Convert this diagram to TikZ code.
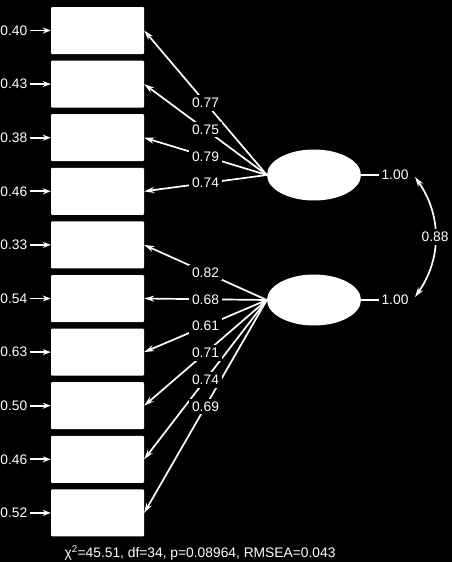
\documentclass[tikz,border=0pt]{standalone}
\usepackage{fontspec}
\setmainfont{Liberation Sans}
\usetikzlibrary{arrows.meta,shapes.geometric}

\begin{document}
\begin{tikzpicture}[x=1pt,y=-1pt,
	>={Stealth[length=10pt,width=6pt]},
	item/.style={fill=white,rounded corners=1pt,minimum width=93pt,minimum height=47pt,inner sep=0pt},
	factor/.style={ellipse,fill=white,minimum width=94pt,minimum height=51pt,inner sep=0pt},
	num/.style={text=white,font=\fontsize{13.8}{16}\selectfont,inner sep=2pt},
	load/.style={num,fill=black,inner sep=3pt},
	path/.style={white,line width=1.7pt,->}]
	\def\pitch{53.6};

	\fill[black] (0,0) rectangle (452,562);
	\useasboundingbox (0,0) rectangle (452,562);

	% ITEMS
	\foreach \i/\e in {1/0.40,2/0.43,3/0.38,4/0.46,5/0.33,6/0.54,7/0.63,8/0.50,9/0.46,10/0.52} {
		\node[item] (x\i) at (97.5,{30.5+(\i-1)*\pitch}) {};
		\node[num,anchor=east] (e\i) at (29.5,{30.5+(\i-1)*\pitch}) {\e};
		\draw[path,-{Stealth[length=8pt,width=6pt]}] (e\i) -- (x\i);
	}

	% FACTORS
	\node[factor] (f1) at (314,175) {};
	\node[factor] (f2) at (314,300) {};

	% LOADINGS
	\foreach \i in {1,...,4}
		\draw[path] (f1.west) -- (x\i.east);
	\foreach \i in {5,...,10}
		\draw[path] (f2.west) -- (x\i.east);
	\foreach \i/\l in {1/0.77,2/0.75,3/0.79,4/0.74}
		\path (f1.west) -- node[load] {\l} (x\i.east);
	\foreach \i/\l in {5/0.82,6/0.68,7/0.61,8/0.71,9/0.74,10/0.69}
		\path (f2.west) -- node[load] {\l} (x\i.east);

	% VARIANCES
	\node[num] (v1) at (395,175) {1.00};
	\node[num] (v2) at (395,300) {1.00};
	\draw[white,line width=1.7pt] (f1.east) -- (v1);
	\draw[white,line width=1.7pt] (f2.east) -- (v2);

	% CORRELATION
	\coordinate (c1) at (415,177);
	\coordinate (c2) at (415,297);
	\draw[path,<->] (c1) to[bend left=35] node[load] {0.88} (c2);

	% FIT
	\node[num] (fit) at (200,553) {χ\textsuperscript{2}=45.51, df=34, p=0.08964, RMSEA=0.043};
\end{tikzpicture}
\end{document}
